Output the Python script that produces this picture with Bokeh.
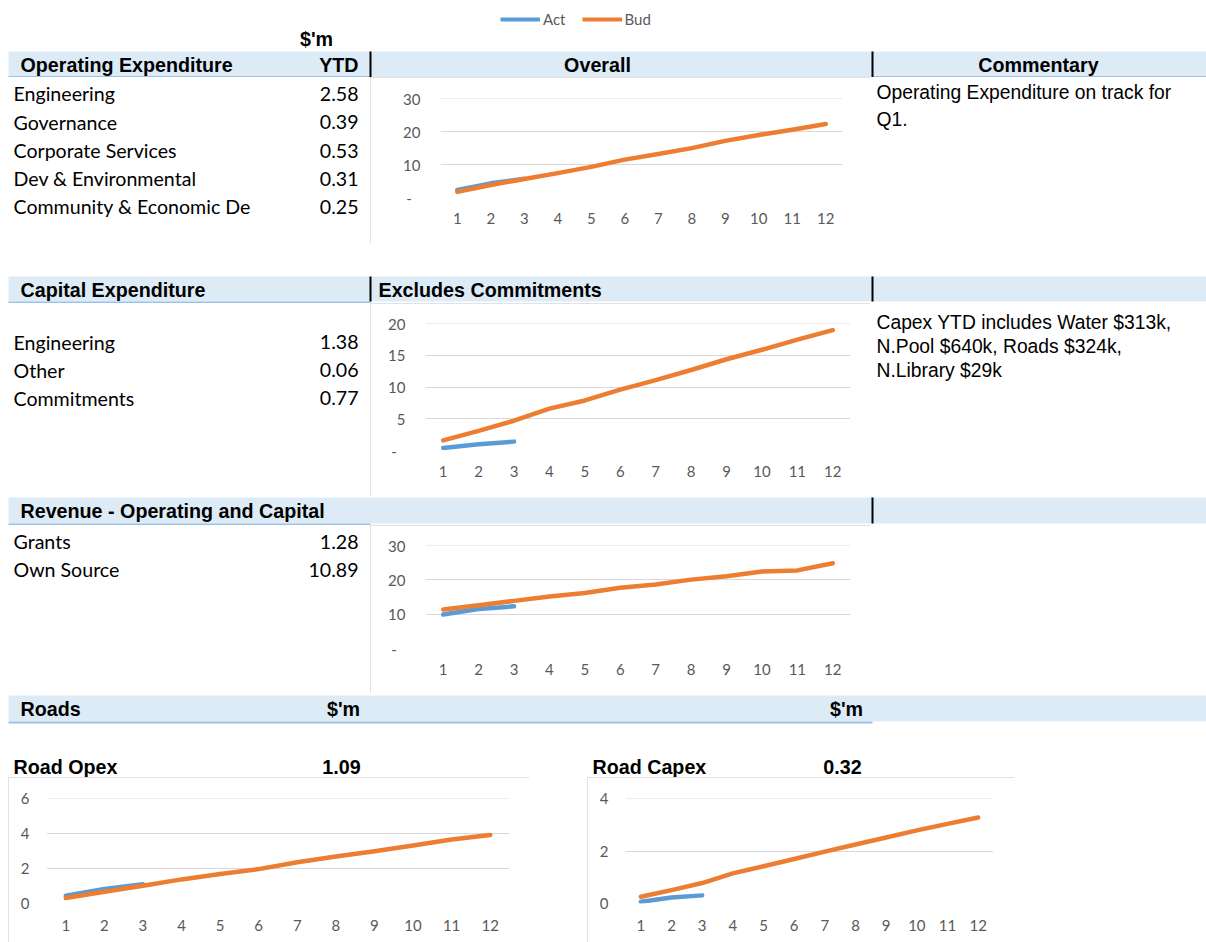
from bokeh.plotting import figure
from bokeh.models import Range1d, FixedTicker, Legend, LegendItem, Spacer
from bokeh.layouts import column, row
from bokeh.core.properties import value
from bokeh.embed import file_html
from bokeh.resources import INLINE

# ---------------- data ----------------
months = [1, 2, 3, 4, 5, 6, 7, 8, 9, 10, 11, 12]
month_labels = ["1", "2", "3", "4", "5", "6", "7", "8", "9", "10", "11", "12"]

opex_items = ["Engineering", "Governance", "Corporate Services", "Dev & Environmental", "Community & Economic De"]
opex_ytd = [2.58, 0.39, 0.53, 0.31, 0.25]
capex_items = ["Engineering", "Other", "Commitments"]
capex_ytd = [1.38, 0.06, 0.77]
revenue_items = ["Grants", "Own Source"]
revenue_ytd = [1.28, 10.89]
road_opex_ytd = 1.09
road_capex_ytd = 0.32

overall_act = [2.3, 4.3, 5.7]
overall_bud = [1.7, 3.8, 5.6, 7.4, 9.3, 11.5, 13.2, 15.0, 17.2, 19.0, 20.6, 22.3]
capex_act = [0.4, 1.0, 1.4]
capex_bud = [1.6, 3.1, 4.7, 6.6, 7.9, 9.6, 11.1, 12.7, 14.4, 15.9, 17.5, 19.0]
revenue_act = [9.9, 11.5, 12.3]
revenue_bud = [11.4, 12.6, 13.9, 15.2, 16.2, 17.7, 18.7, 20.1, 21.1, 22.5, 22.8, 24.9]
road_opex_act = [0.44, 0.83, 1.1]
road_opex_bud = [0.31, 0.67, 1.02, 1.38, 1.69, 1.97, 2.36, 2.69, 2.99, 3.32, 3.66, 3.92]
road_capex_act = [0.07, 0.23, 0.31]
road_capex_bud = [0.26, 0.51, 0.78, 1.15, 1.42, 1.70, 1.98, 2.25, 2.52, 2.79, 3.04, 3.28]

commentary_opex = ["Operating Expenditure on track for", "Q1."]
commentary_capex = ["Capex YTD includes Water $313k,", "N.Pool $640k, Roads $324k,", "N.Library $29k"]

# ---------------- styles ----------------
ACT = "#5B9BD5"
BUD = "#ED7D31"
BAR = "#DDEBF7"
ULINE = "#9BC2E6"
GRID = "#D9D9D9"
TICK = "#595959"
BODY_FONT = "Lato"
HEAD_FONT = "Liberation Sans"
BODY_SIZE = "19.6px"
HEAD_SIZE = "19.7px"
COMMENT_SIZE = "19.3px"
TICK_SIZE = "15px"


def panel(x0, x1, y0, y1):
    p = figure(width=int(round(x1 - x0)), height=int(round(y1 - y0)),
               x_range=Range1d(x0, x1), y_range=Range1d(y1, y0),
               output_backend="svg", toolbar_location=None, tools="",
               x_axis_location=None, y_axis_location=None, min_border=0)
    p.grid.visible = False
    p.outline_line_color = None
    p.background_fill_color = "white"
    p.border_fill_color = "white"
    return p


def body_text(p, xs, ys, texts, align="left"):
    p.text(x=xs, y=ys, text=texts, text_font=value(BODY_FONT), text_font_size=value(BODY_SIZE),
           text_align=align, text_baseline="middle", text_color="black")


def head_text(p, xs, ys, texts, align="left"):
    p.text(x=xs, y=ys, text=texts, text_font=value(HEAD_FONT), text_font_size=value(HEAD_SIZE),
           text_font_style="bold", text_align=align, text_baseline="middle", text_color="black")


def comment_text(p, xs, ys, texts):
    p.text(x=xs, y=ys, text=texts, text_font=value(HEAD_FONT), text_font_size=value(COMMENT_SIZE),
           text_align="left", text_baseline="middle", text_color="black")


def bar(p, x0, x1, y0, y1):
    p.quad(left=[x0], right=[x1], top=[y0], bottom=[y1], fill_color=BAR, line_color=None)


def hline(p, x0, x1, y, color=ULINE, w=2):
    p.segment(x0=[x0], y0=[y], x1=[x1], y1=[y], line_color=color, line_width=w)


def vline(p, x, y0, y1):
    p.segment(x0=[x], y0=[y0], x1=[x], y1=[y1], line_color="black", line_width=2)


def chart(w, h, bl, br, bt, bb, ymax, yticks, act, bud, zero_dash, ystand, xstand):
    p = figure(width=w, height=h, x_range=Range1d(0.5, 12.5), y_range=Range1d(0, ymax * 1.002),
               output_backend="svg", toolbar_location=None, tools="",
               min_border_left=bl, min_border_right=br, min_border_top=bt, min_border_bottom=bb,
               styles={"outline": "1px solid #D9D9D9", "outline-offset": "-1px"})
    p.outline_line_color = None
    p.background_fill_color = "white"
    p.border_fill_color = "white"
    p.xgrid.grid_line_color = None
    p.ygrid.grid_line_color = GRID
    p.ygrid.grid_line_width = 1
    p.xaxis.ticker = FixedTicker(ticks=months)
    p.xaxis.major_label_overrides = {m: lab for m, lab in zip(months, month_labels)}
    p.yaxis.ticker = FixedTicker(ticks=yticks)
    p.ygrid.ticker = FixedTicker(ticks=yticks)
    if zero_dash:
        p.yaxis.major_label_overrides = {0: "-\u2007"}
    for ax in (p.xaxis[0], p.yaxis[0]):
        ax.axis_line_color = None
        ax.major_tick_line_color = None
        ax.minor_tick_line_color = None
        ax.major_tick_out = 0
        ax.major_tick_in = 0
        ax.major_label_text_font = BODY_FONT
        ax.major_label_text_font_size = TICK_SIZE
        ax.major_label_text_color = TICK
    p.yaxis.major_label_standoff = ystand
    p.xaxis.major_label_standoff = xstand
    p.line(months[:len(act)], act, line_color=ACT, line_width=4.5, line_cap="round", line_join="round")
    p.line(months, bud, line_color=BUD, line_width=4.5, line_cap="round", line_join="round")
    return p


# ---------------- row 0: legend + header ----------------
r0 = panel(0, 1206, 0, 77)
bar(r0, 8, 1206, 51, 77)
hline(r0, 8, 370, 76.5)
hline(r0, 872, 1206, 76.5)
vline(r0, 370, 51, 77)
vline(r0, 872, 51, 77)
head_text(r0, [316], [38], ["$'m"], align="center")
head_text(r0, [20], [64], ["Operating Expenditure"])
head_text(r0, [358], [64], ["YTD"], align="right")
head_text(r0, [597], [64], ["Overall"], align="center")
head_text(r0, [1038], [64], ["Commentary"], align="center")
nan = float("nan")
r_act = r0.line(x=[nan], y=[nan], line_color=ACT, line_width=4)
r_bud = r0.line(x=[nan], y=[nan], line_color=BUD, line_width=4)
leg = Legend(items=[LegendItem(label="Act", renderers=[r_act]), LegendItem(label="Bud", renderers=[r_bud])],
             orientation="horizontal", location=(500, 49), glyph_width=40, glyph_height=16,
             label_standoff=3, spacing=16, padding=0, margin=0, label_height=16,
             label_text_font=BODY_FONT, label_text_font_size=TICK_SIZE, label_text_color=TICK,
             background_fill_alpha=0, border_line_color=None)
r0.add_layout(leg, "center")

# ---------------- row 1 ----------------
l1 = panel(0, 370, 77, 243)
ys1 = [93, 121.5, 150, 178, 206]
body_text(l1, [13] * 5, ys1, opex_items)
body_text(l1, [358] * 5, ys1, [f"{v:.2f}" for v in opex_ytd], align="right")
c1 = chart(500, 166, 70, 28, 21, 46, 30, [0, 10, 20, 30], overall_act, overall_bud, True, 20, 15)
rt1 = panel(870, 1206, 77, 243)
comment_text(rt1, [876, 876], [92, 119], commentary_opex)

# ---------------- row 2 ----------------
r2 = panel(0, 1206, 243, 303)
bar(r2, 8, 1206, 276, 301)
hline(r2, 8, 370, 302)
vline(r2, 370, 276, 301)
vline(r2, 872, 276, 301)
head_text(r2, [20], [289], ["Capital Expenditure"])
head_text(r2, [378], [289], ["Excludes Commitments"])

# ---------------- row 3 ----------------
l3 = panel(0, 370, 303, 496)
ys3 = [341.5, 369.5, 397.5]
body_text(l3, [13] * 3, ys3, capex_items)
body_text(l3, [358] * 3, ys3, [f"{v:.2f}" for v in capex_ytd], align="right")
c2 = chart(500, 193, 55, 20, 20, 46, 20, [0, 5, 10, 15, 20], capex_act, capex_bud, True, 20, 15)
rt3 = panel(870, 1206, 303, 496)
comment_text(rt3, [876] * 3, [322, 346, 370], commentary_capex)

# ---------------- row 4 ----------------
r4 = panel(0, 1206, 496, 525)
bar(r4, 8, 1206, 497, 523)
hline(r4, 8, 370, 524)
vline(r4, 872, 497, 523)
head_text(r4, [20], [510], ["Revenue - Operating and Capital"])

# ---------------- row 5 ----------------
l5 = panel(0, 370, 525, 693)
ys5 = [541, 569]
body_text(l5, [13] * 2, ys5, revenue_items)
body_text(l5, [358] * 2, ys5, [f"{v:.2f}" for v in revenue_ytd], align="right")
c3 = chart(500, 168, 55, 20, 20, 45, 30, [0, 10, 20, 30], revenue_act, revenue_bud, True, 20, 15)
rt5 = panel(870, 1206, 525, 693)

# ---------------- row 6 ----------------
r6 = panel(0, 1206, 693, 777)
bar(r6, 8, 1206, 695, 721)
hline(r6, 8, 872, 722)
head_text(r6, [20], [708], ["Roads"])
head_text(r6, [343, 846], [708, 708], ["$'m", "$'m"], align="center")
head_text(r6, [13, 592], [766, 766], ["Road Opex", "Road Capex"])
head_text(r6, [341, 842], [766, 766], [f"{road_opex_ytd:.2f}", f"{road_capex_ytd:.2f}"], align="center")

# ---------------- row 7 ----------------
c4 = chart(521, 165, 38, 20, 21, 39, 6, [0, 2, 4, 6], road_opex_act, road_opex_bud, False, 17, 16)
c5 = chart(427, 165, 38, 21, 21, 39, 4, [0, 2, 4], road_capex_act, road_capex_bud, False, 17, 16)

layout = column(
    r0,
    row(column(l1), c1, column(rt1)),
    r2,
    row(column(l3), c2, column(rt3)),
    r4,
    row(column(l5), c3, column(rt5)),
    r6,
    row(Spacer(width=8, height=165), c4, Spacer(width=58, height=165), c5, Spacer(width=192, height=165)),
)

open("out.html", "w").write(file_html(layout, INLINE))
